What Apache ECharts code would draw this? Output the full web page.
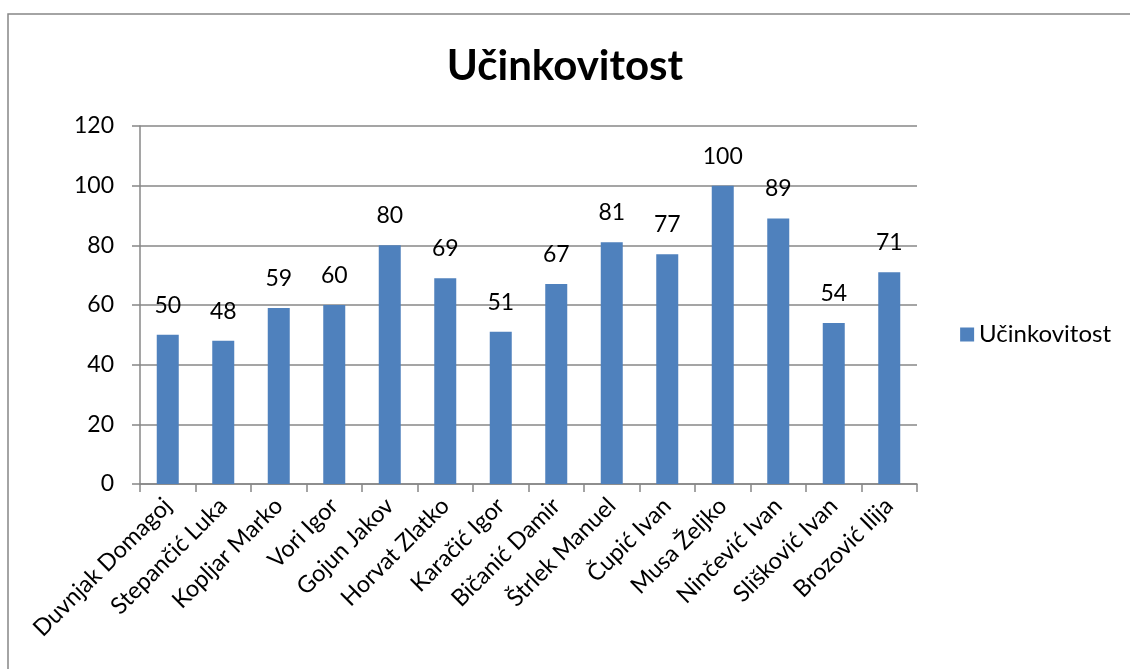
<!DOCTYPE html>
<html>
<head>
<meta charset="utf-8">
<script src="https://cdn.jsdelivr.net/npm/echarts@6/dist/echarts.min.js"></script>
<style>
html,body{margin:0;padding:0;background:#fff;}
#chart{width:1130px;height:669px;}
</style>
</head>
<body>
<div id="chart"></div>
<script>
const categories = ["Duvnjak Domagoj","Stepančić Luka","Kopljar Marko","Vori Igor","Gojun Jakov","Horvat Zlatko","Karačić Igor","Bičanić Damir","Štrlek Manuel","Čupić Ivan","Musa Željko","Ninčević Ivan","Slišković Ivan","Brozović Ilija"];
const values = [50,48,59,60,80,69,51,67,81,77,100,89,54,71];
const seriesName = "Učinkovitost";
const titleText = "Učinkovitost";

const font = "Lato, 'Open Sans', sans-serif";
const chart = echarts.init(document.getElementById('chart'), null, {renderer:'canvas'});
chart.setOption({
  animation:false,
  backgroundColor:'#fff',
  title:{text:titleText,left:'center',top:40,textStyle:{fontFamily:font,fontSize:42,fontWeight:'bold',color:'#000'}},
  graphic:[{type:'rect',shape:{x:8,y:14,width:1200,height:800},style:{fill:'none',stroke:'#878787',lineWidth:1.5},silent:true}],
  legend:{right:14,top:'middle',orient:'vertical',itemWidth:14,itemHeight:14,itemGap:8,icon:'rect',
    textStyle:{fontFamily:font,fontSize:24,color:'#000'},data:[seriesName]},
  grid:{left:140,right:213,top:126,bottom:185,containLabel:false},
  xAxis:{type:'category',data:categories,
    axisLine:{lineStyle:{color:'#878787',width:1.5}},
    axisTick:{show:true,length:8,lineStyle:{color:'#878787',width:1.5}},
    axisLabel:{rotate:45,margin:18,fontFamily:font,fontSize:23.5,color:'#000',interval:0}},
  yAxis:{type:'value',min:0,max:120,interval:20,
    axisLine:{show:true,lineStyle:{color:'#878787',width:1.5}},
    axisTick:{show:true,length:8,lineStyle:{color:'#878787',width:1.5}},
    splitLine:{lineStyle:{color:'#878787',width:1.5}},
    axisLabel:{margin:26,fontFamily:font,fontSize:23,color:'#000'}},
  series:[{name:seriesName,type:'bar',data:values,barWidth:22,
    itemStyle:{color:'#4F81BD'},
    label:{show:true,position:'top',distance:18,fontFamily:font,fontSize:23,color:'#000'}}]
});
</script>
</body>
</html>
